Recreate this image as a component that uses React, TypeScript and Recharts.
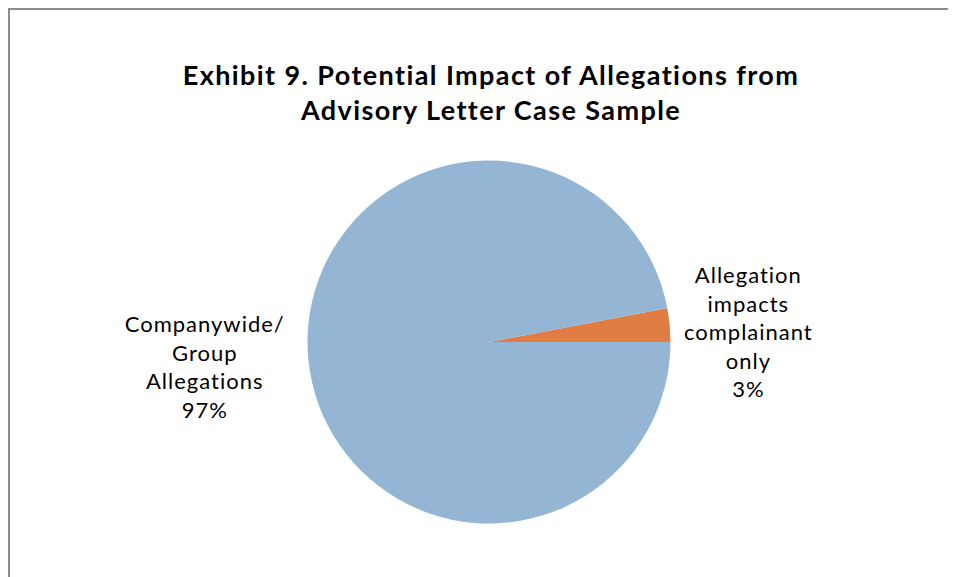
import { Pie, PieChart, Cell } from "recharts";

const categories = ["Allegation impacts complainant only", "Companywide/ Group Allegations"];
const values = [3, 97];
const labelLines = [
  ["Allegation", "impacts", "complainant", "only", "3%"],
  ["Companywide/", "Group", "Allegations", "97%"],
];
const colors = ["#E07D44", "#94B6D4"];

const chartData = categories.map((name, i) => ({ name, value: values[i] }));

const RADIAN = Math.PI / 180;
// distance of each label block from the pie edge, plus a vertical nudge
const labelGap = [79, 104];
const labelNudge = [14, -3];

function renderLabel(props: any) {
  const { cx, cy, midAngle, outerRadius, index } = props;
  const r = outerRadius + labelGap[index];
  const x = cx + r * Math.cos(-midAngle * RADIAN);
  const y = cy + r * Math.sin(-midAngle * RADIAN) + labelNudge[index];
  const lines = labelLines[index];
  const lh = 28.5;
  const top = y - ((lines.length - 1) * lh) / 2;
  return (
    <text
      x={x}
      y={top}
      textAnchor="middle"
      dominantBaseline="central"
      fill="#000"
      style={{ fontFamily: "Lato", fontSize: 22, letterSpacing: 1 }}
    >
      {lines.map((l, i) => (
        <tspan key={i} x={x} y={top + i * lh}>
          {l}
        </tspan>
      ))}
    </text>
  );
}

export default function App() {
  return (
    <div
      style={{
        position: "relative",
        width: 948,
        height: 569,
        borderTop: "2px solid #8c8c8c",
        borderLeft: "2px solid #8c8c8c",
        background: "#fff",
        boxSizing: "border-box",
      }}
    >
      <div
        style={{
          position: "absolute",
          left: 0,
          top: 47,
          width: 962,
          textAlign: "center",
          fontFamily: "Lato",
          fontWeight: 700,
          fontSize: 27,
          letterSpacing: 1.4,
          lineHeight: "35px",
          color: "#000",
        }}
      >
        Exhibit 9. Potential Impact of Allegations from
        <br />
        Advisory Letter Case Sample
      </div>
      <PieChart width={946} height={567} style={{ position: "absolute", left: 0, top: 0 }}>
        <Pie
          data={chartData}
          dataKey="value"
          nameKey="name"
          cx={474}
          cy={327}
          outerRadius={181.5}
          startAngle={0}
          endAngle={360}
          stroke="none"
          label={renderLabel}
          labelLine={false}
          isAnimationActive={false}
        >
          {chartData.map((_, i) => (
            <Cell key={i} fill={colors[i]} />
          ))}
        </Pie>
      </PieChart>
    </div>
  );
}
